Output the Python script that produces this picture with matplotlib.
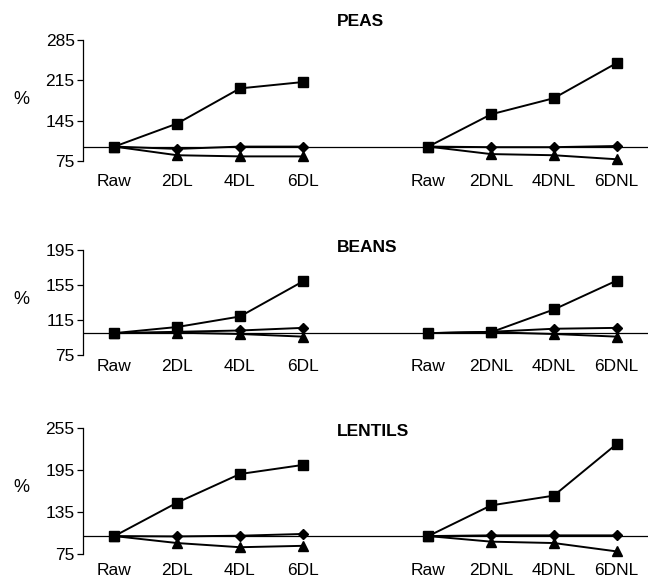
import numpy as np
import matplotlib.pyplot as plt

plt.rcParams['font.family'] = ['Liberation Sans', 'DejaVu Sans']

# categories: two groups of four, with an empty slot in between
cats_left = ['Raw', '2DL', '4DL', '6DL']
cats_right = ['Raw', '2DNL', '4DNL', '6DNL']

# PEAS
peas_sq_l = [100, 140, 201, 212]
peas_sq_r = [100, 156, 184, 245]
peas_di_l = [100, 96, 100, 100]
peas_di_r = [100, 99, 99, 101]
peas_tr_l = [100, 85, 83, 83]
peas_tr_r = [100, 87, 85, 78]

# BEANS
beans_sq_l = [100, 107, 119, 159]
beans_sq_r = [100, 101, 127, 160]
beans_di_l = [100, 101.5, 103, 106]
beans_di_r = [100, 101.5, 105, 106]
beans_tr_l = [100, 100.5, 99, 96]
beans_tr_r = [100, 101, 99, 96]

# LENTILS
lent_sq_l = [100, 148, 189, 202]
lent_sq_r = [100, 144, 158, 232]
lent_di_l = [100, 99.5, 100.5, 103]
lent_di_r = [100, 101, 101, 101]
lent_tr_l = [100, 90, 84, 86]
lent_tr_r = [100, 92, 90, 78]

peas_ticks = [75, 145, 215, 285]
beans_ticks = [75, 115, 155, 195]
lent_ticks = [75, 135, 195, 255]

panels = [
    ('PEAS', peas_ticks, (peas_sq_l, peas_sq_r), (peas_di_l, peas_di_r), (peas_tr_l, peas_tr_r)),
    ('BEANS', beans_ticks, (beans_sq_l, beans_sq_r), (beans_di_l, beans_di_r), (beans_tr_l, beans_tr_r)),
    ('LENTILS', lent_ticks, (lent_sq_l, lent_sq_r), (lent_di_l, lent_di_r), (lent_tr_l, lent_tr_r)),
]

W, H = 648, 579
# axes boxes in pixels: top, bottom
boxes = [(40, 161), (250, 355), (428, 553.5)]
xpads = [9.5, 3, 6.5]
title_y = [22, 248, 432]
pct_y = [100, 300, 487]

fig = plt.figure(figsize=(W / 100, H / 100), dpi=100)

x_left = np.arange(4)
x_right = np.arange(5, 9)
xticks = list(x_left) + list(x_right)
xlabels = cats_left + cats_right

for (name, yt, sq, di, tr), (top, bot), xp, ty, py in zip(panels, boxes, xpads, title_y, pct_y):
    ax = fig.add_axes([83 / W, (H - bot) / H, (W - 83) / W, (bot - top) / H])
    ax.axhline(100, color='black', lw=0.9, zorder=1)
    for xs, idx in ((x_left, 0), (x_right, 1)):
        ax.plot(xs, sq[idx], color='black', lw=1.4, marker='s', ms=6.5, clip_on=False, zorder=3)
        ax.plot(xs, di[idx], color='black', lw=1.4, marker='D', ms=5, clip_on=False, zorder=3)
        ax.plot(xs, tr[idx], color='black', lw=1.4, marker='^', ms=7, clip_on=False, zorder=3)
    ax.set_xlim(-0.5, 8.5)
    ax.set_ylim(yt[0], yt[-1])
    ax.set_yticks(yt)
    ax.set_xticks(xticks)
    ax.set_xticklabels(xlabels)
    for s in ('top', 'right', 'bottom'):
        ax.spines[s].set_visible(False)
    ax.spines['left'].set_linewidth(0.9)
    ax.tick_params(axis='y', length=4, width=0.9, labelsize=12.5, pad=2)
    ax.tick_params(axis='x', length=0, labelsize=12.5, pad=xp)
    ax.patch.set_visible(False)
    fig.text(337 / W, 1 - ty / H, name, fontsize=12.5, fontweight='bold', ha='left', va='center')
    fig.text(21 / W, 1 - py / H, '%', fontsize=13, ha='center', va='center')

fig.savefig('out.png', dpi=100)
